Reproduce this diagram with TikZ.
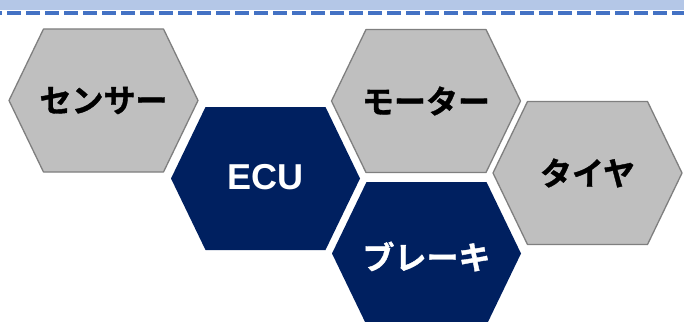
\documentclass[tikz,border=0pt]{standalone}
\usepackage{fontspec}
\newfontfamily\jpfont{Noto Sans CJK JP}[BoldFont={* Bold}, BoldFeatures={FakeBold=1.2}]
\newfontfamily\lsans{Liberation Sans}
\definecolor{bandblue}{HTML}{B4C7E7}
\definecolor{dashblue}{HTML}{4472C4}
\definecolor{hexgray}{HTML}{BFBFBF}
\definecolor{hexedge}{HTML}{7F7F7F}
\definecolor{navy}{HTML}{002060}
\tikzset{
  grayhex/.style={fill=hexgray, draw=hexedge, line width=1.3pt, line join=round},
  navyhex/.style={fill=navy, draw=none},
  jplabel/.style={font=\jpfont\bfseries\fontsize{32}{32}\selectfont, text=black, inner sep=0pt},
  jpwhite/.style={font=\jpfont\bfseries\fontsize{32}{32}\selectfont, text=white, inner sep=0pt},
  ecutext/.style={font=\lsans\bfseries\fontsize{36}{36}\selectfont, text=white, inner sep=0pt}
}
\newcommand\hexpath[2]{\path[#2] (#1) ++(-94.5,0) -- ++(34.5,-71.5) -- ++(120,0) -- ++(34.5,71.5) -- ++(-34.5,71.5) -- ++(-120,0) -- cycle;}
\begin{document}
\begin{tikzpicture}[x=1pt,y=-1pt]
\useasboundingbox (0,0) rectangle (684,321);
\fill[bandblue] (0,0) rectangle (684,10.5);
\coordinate (bandL) at (0,13);
\coordinate (bandR) at (684,13);
\draw[dashblue, line width=4pt, dash pattern=on 14pt off 5pt, dash phase=12pt] (bandL) -- (bandR);
\coordinate (cs) at (103.5,100.5);
\coordinate (ce) at (265.5,178.5);
\coordinate (cm) at (426,101);
\coordinate (cb) at (426.5,253.5);
\coordinate (ct) at (587.5,173);
\hexpath{cs}{grayhex}
\hexpath{cm}{grayhex}
\hexpath{ct}{grayhex}
\hexpath{ce}{navyhex}
\hexpath{cb}{navyhex}
\node[jplabel] (sensor) at (cs) {センサー};
\node[jplabel] (motor) at (cm) {モーター};
\node[jplabel] (tire) at (ct) {タイヤ};
\node[ecutext] (ecu) at ([yshift=1]ce) {ECU};
\node[jpwhite] (brake) at ([yshift=-3]cb) {ブレーキ};
\end{tikzpicture}
\end{document}
